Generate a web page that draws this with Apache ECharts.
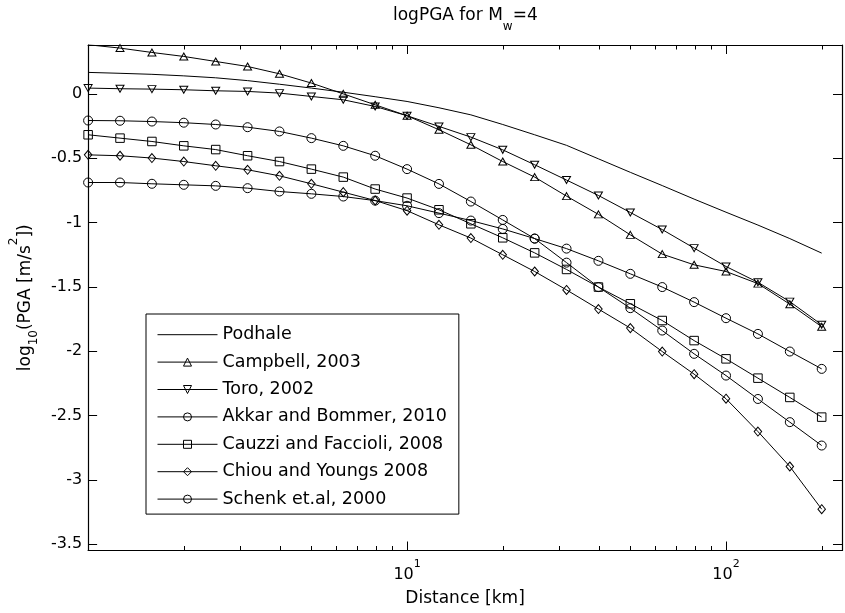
<!DOCTYPE html>
<html><head><meta charset="utf-8">
<script src="https://cdn.jsdelivr.net/npm/echarts@6/dist/echarts.min.js"></script>
<style>html,body{margin:0;padding:0;background:#fff}#c{width:845px;height:613px}</style>
</head><body><div id="c"></div>
<script>
// ---- data ----
const distances = [1, 1.259, 1.585, 1.995, 2.512, 3.162, 3.981, 5.012, 6.310, 7.943, 10, 12.59, 15.85, 19.95, 25.12, 31.62, 39.81, 50.12, 63.10, 79.43, 100, 125.9, 158.5, 199.5];
const podhale  = [0.167, 0.160, 0.152, 0.140, 0.125, 0.103, 0.075, 0.045, 0.013, -0.022, -0.059, -0.108, -0.163, -0.238, -0.318, -0.400, -0.505, -0.610, -0.713, -0.818, -0.920, -1.020, -1.125, -1.238];
const campbell = [0.382, 0.356, 0.322, 0.291, 0.252, 0.213, 0.156, 0.084, 0.000, -0.085, -0.170, -0.279, -0.396, -0.526, -0.647, -0.795, -0.937, -1.096, -1.246, -1.329, -1.381, -1.475, -1.635, -1.810];
const toro     = [0.045, 0.040, 0.037, 0.032, 0.024, 0.019, 0.006, -0.020, -0.046, -0.098, -0.170, -0.253, -0.336, -0.435, -0.551, -0.670, -0.790, -0.922, -1.055, -1.199, -1.342, -1.465, -1.615, -1.795];
const akkar    = [-0.207, -0.209, -0.215, -0.224, -0.238, -0.259, -0.292, -0.344, -0.404, -0.481, -0.585, -0.700, -0.837, -0.980, -1.125, -1.312, -1.502, -1.666, -1.840, -2.021, -2.190, -2.372, -2.552, -2.734];
const cauzzi   = [-0.318, -0.344, -0.370, -0.404, -0.433, -0.481, -0.526, -0.585, -0.647, -0.740, -0.810, -0.901, -1.010, -1.119, -1.236, -1.365, -1.502, -1.632, -1.762, -1.918, -2.060, -2.210, -2.360, -2.513];
const chiou    = [-0.474, -0.481, -0.499, -0.526, -0.559, -0.590, -0.637, -0.699, -0.764, -0.829, -0.908, -1.018, -1.121, -1.251, -1.381, -1.524, -1.673, -1.821, -2.003, -2.179, -2.370, -2.625, -2.897, -3.229];
const schenk   = [-0.689, -0.689, -0.699, -0.707, -0.715, -0.733, -0.759, -0.777, -0.798, -0.830, -0.870, -0.927, -0.985, -1.050, -1.125, -1.203, -1.298, -1.399, -1.502, -1.619, -1.744, -1.866, -2.003, -2.138];
const seriesNames = ['Podhale', 'Campbell, 2003', 'Toro, 2002', 'Akkar and Bommer, 2010', 'Cauzzi and Faccioli, 2008', 'Chiou and Youngs 2008', 'Schenk et.al, 2000'];
const yTicks = [-3.5, -3, -2.5, -2, -1.5, -1, -0.5, 0];
const xMinorTicks = [2, 3, 4, 5, 6, 7, 8, 9, 20, 30, 40, 50, 60, 70, 80, 90, 200];
const xMin = 1, xMax = 231, yMin = -3.55, yMax = 0.38;

const FONT = 'DejaVu Sans';
const BLACK = '#000';
const NONE = 'rgba(0,0,0,0)';
const chart = echarts.init(document.getElementById('c'), null, {renderer: 'canvas'});

const styles = [
  {values: podhale,  symbol: 'none'},
  {values: campbell, symbol: 'triangle', size: [8, 7], rotate: 0},
  {values: toro,     symbol: 'triangle', size: [8, 7], rotate: 180},
  {values: akkar,    symbol: 'circle', size: 9},
  {values: cauzzi,   symbol: 'rect', size: 8.5},
  {values: chiou,    symbol: 'diamond', size: [7.5, 9]},
  {values: schenk,   symbol: 'circle', size: 9}
];

const series = styles.map((s, k) => ({
  type: 'line',
  name: seriesNames[k],
  xAxisIndex: 0, yAxisIndex: 0,
  data: distances.map((d, i) => [d, s.values[i]]),
  symbol: s.symbol,
  symbolSize: s.size || 0,
  symbolRotate: s.rotate || 0,
  showSymbol: s.symbol !== 'none',
  lineStyle: {color: BLACK, width: 1},
  itemStyle: {color: NONE, borderColor: BLACK, borderWidth: 1},
  emphasis: {disabled: true},
  silent: true,
  z: 2
}));

const legendData = seriesNames.map((n, k) => styles[k].symbol === 'none'
  ? {name: n, itemStyle: {color: NONE, borderColor: NONE, borderWidth: 0, opacity: 0}}
  : {name: n});

function xLabel(v) {
  const e = Math.log10(v);
  const r = Math.round(e);
  if (Math.abs(e - r) > 1e-6 || r < 1) return '';
  return '{b|10}{s|' + r + '}';
}

const axisLineStyle = {color: BLACK, width: 1.2};
function xAxisBase(pos) {
  return {type: 'log', gridIndex: 0, min: xMin, max: xMax, position: pos,
    splitLine: {show: false}, axisLine: {show: false, onZero: false, lineStyle: axisLineStyle}};
}

const option = {
  animation: false,
  backgroundColor: '#fff',
  textStyle: {fontFamily: FONT, color: BLACK},
  title: {
    text: '{a|logPGA for M}{sub|w}{a|=4}',
    left: 388, top: 2,
    textStyle: {fontFamily: FONT, fontWeight: 'normal', fontSize: 12, color: BLACK,
      rich: {
        a: {fontFamily: FONT, fontSize: 17, fontWeight: 'normal', color: BLACK, verticalAlign: 'top'},
        sub: {fontFamily: FONT, fontSize: 12, fontWeight: 'normal', color: BLACK, verticalAlign: 'top', padding: [14, 0, 0, 0]}
      }}
  },
  grid: {left: 88, top: 45, width: 758, height: 505.5},
  legend: {
    orient: 'vertical', left: 146, top: 314,
    padding: [11.7, 12, 6, 11],
    itemWidth: 60, itemHeight: 10, itemGap: 9.4,
    borderColor: BLACK, borderWidth: 1, backgroundColor: '#fff',
    selectedMode: false,
    lineStyle: {width: 1, color: BLACK},
    itemStyle: {borderWidth: 1, borderColor: BLACK, color: NONE},
    textStyle: {fontFamily: FONT, fontSize: 17.5, color: BLACK, lineHeight: 14, width: 220},
    data: legendData
  },
  xAxis: [
    Object.assign(xAxisBase('bottom'), {
      axisLine: {show: true, onZero: false, lineStyle: axisLineStyle},
      axisTick: {show: true, inside: true, length: 9, lineStyle: {color: BLACK}},
      axisLabel: {show: true, margin: 8, formatter: xLabel, color: BLACK,
        rich: {
          b: {fontFamily: FONT, fontSize: 16, color: BLACK, verticalAlign: 'top', padding: [8, 0, 0, 0]},
          s: {fontFamily: FONT, fontSize: 11, color: BLACK, verticalAlign: 'top'}
        }},
      name: 'Distance [km]', nameLocation: 'middle', nameGap: 40,
      nameTextStyle: {fontFamily: FONT, fontSize: 17, color: BLACK}
    }),
    Object.assign(xAxisBase('bottom'), {
      axisTick: {show: true, inside: true, length: 4.5, customValues: xMinorTicks, lineStyle: {color: BLACK}},
      axisLabel: {show: false}
    }),
    Object.assign(xAxisBase('top'), {
      axisLine: {show: true, onZero: false, lineStyle: axisLineStyle},
      axisTick: {show: true, inside: true, length: 9, lineStyle: {color: BLACK}},
      axisLabel: {show: false}
    }),
    Object.assign(xAxisBase('top'), {
      axisTick: {show: true, inside: true, length: 4.5, customValues: xMinorTicks, lineStyle: {color: BLACK}},
      axisLabel: {show: false}
    })
  ],
  yAxis: [
    {type: 'value', gridIndex: 0, min: yMin, max: yMax, position: 'left',
      splitLine: {show: false},
      axisLine: {show: true, onZero: false, lineStyle: axisLineStyle},
      axisTick: {show: true, inside: true, length: 9, customValues: yTicks, lineStyle: {color: BLACK}},
      axisLabel: {show: true, margin: 6, customValues: yTicks, fontFamily: FONT, fontSize: 16, color: BLACK},
      name: '{a|log}{sub|10}{a|(PGA [m/s}{sup|2}{a|])}',
      nameLocation: 'middle', nameRotate: 90, nameGap: 28,
      nameTextStyle: {fontFamily: FONT, fontSize: 12, color: BLACK,
        rich: {
          a: {fontFamily: FONT, fontSize: 17, color: BLACK, verticalAlign: 'top', padding: [9.5, 0, 0, 0]},
          sub: {fontFamily: FONT, fontSize: 12, color: BLACK, verticalAlign: 'top', padding: [20, 0, 0, 0]},
          sup: {fontFamily: FONT, fontSize: 12, color: BLACK, verticalAlign: 'top'}
        }}
    },
    {type: 'value', gridIndex: 0, min: yMin, max: yMax, position: 'right',
      splitLine: {show: false},
      axisLine: {show: true, onZero: false, lineStyle: axisLineStyle},
      axisTick: {show: true, inside: true, length: 9, customValues: yTicks, lineStyle: {color: BLACK}},
      axisLabel: {show: false}
    }
  ],
  series: series
};
chart.setOption(option);
</script>
</body></html>
